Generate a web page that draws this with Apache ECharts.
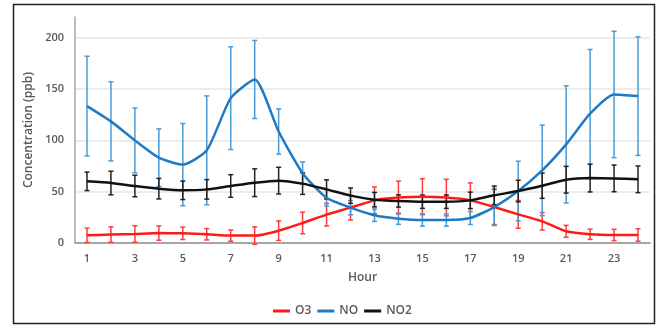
<!DOCTYPE html>
<html>
<head>
<meta charset="utf-8">
<script src="https://cdn.jsdelivr.net/npm/echarts@6/dist/echarts.min.js"></script>
<style>
  html, body { margin: 0; padding: 0; background: #fff; }
  #chart { width: 666px; height: 326px; }
</style>
</head>
<body>
<div id="chart"></div>
<script>
const hours = ["1","2","3","4","5","6","7","8","9","10","11","12","13","14","15","16","17","18","19","20","21","22","23","24"];

const o3 = [7.5, 8.2, 8.8, 9.7, 9.4, 8.5, 7.2, 7.2, 12, 19.5, 27.6, 34.4, 41.5, 44.2, 45.1, 44.2, 41.5, 35, 27.9, 21.1, 11.4, 8.5, 7.8, 7.8];
const o3Err = [7, 7.5, 8, 7, 6, 5.5, 5.5, 8.5, 9.5, 10.5, 11, 12, 13, 16, 17.5, 17.8, 17, 17, 13.5, 8.5, 5.8, 5, 5.5, 6];

const no = [133.3, 118.4, 99.9, 83.1, 76.3, 90.2, 141, 159.2, 108.5, 68, 44, 34.4, 27, 23.7, 22.4, 22.4, 24.3, 35, 50.6, 70.7, 96, 125.9, 144.6, 143];
const noErr = [48.5, 38.5, 31.5, 28, 40, 53, 50, 38, 22, 11, 8, 7, 6, 5.5, 6, 6, 6.3, 18, 29, 44, 57, 62.5, 61.5, 57.7];

const no2 = [60, 58.4, 55.5, 52.9, 51.3, 52.2, 55.5, 58.7, 60.7, 57.8, 52.2, 46.1, 42.2, 40.9, 40.2, 40.2, 41.5, 46.4, 50.6, 55.8, 61.6, 63.2, 62.9, 62];
const no2Err = [9, 11.5, 10.5, 10, 9, 9.5, 11, 13.5, 13, 10.5, 9.3, 7.5, 7, 6, 6.5, 6.5, 8, 9, 10.5, 12.3, 13, 13.5, 13, 13];

const yTicks = [0, 50, 100, 150, 200];

const textColor = "#595959";
const font = "'Open Sans', sans-serif";

function errData(vals, errs) {
  return vals.map((v, i) => [i, v - errs[i], v + errs[i]]);
}

// error bars: vertical line + two caps
function errSeries(name, vals, errs, color) {
  return {
    name: name,
    type: "custom",
    data: errData(vals, errs),
    encode: { x: 0, y: [1, 2] },
    renderItem: (params, api) => {
      const i = api.value(0);
      const top = api.coord([i, api.value(2)]);
      const bot = api.coord([i, api.value(1)]);
      const w = 2.5;
      const style = { stroke: color, lineWidth: 1.5 };
      return {
        type: "group",
        children: [
          { type: "line", shape: { x1: top[0], y1: top[1], x2: bot[0], y2: bot[1] }, style: style },
          { type: "line", shape: { x1: top[0] - w, y1: top[1], x2: top[0] + w, y2: top[1] }, style: style },
          { type: "line", shape: { x1: bot[0] - w, y1: bot[1], x2: bot[0] + w, y2: bot[1] }, style: style },
        ],
      };
    },
    z: 3,
  };
}

function lineSeries(name, vals, color) {
  return {
    name: name,
    type: "line",
    data: vals,
    smooth: 0.2,
    symbol: "none",
    lineStyle: { color: color, width: 2.5 },
    itemStyle: { color: color },
    z: 4,
  };
}

const chart = echarts.init(document.getElementById("chart"));

chart.setOption({
  animation: false,
  backgroundColor: "#fff",
  textStyle: { fontFamily: font },
  graphic: [
    {
      type: "rect",
      shape: { x: 13.5, y: 4.5, width: 641, height: 319 },
      style: { fill: "none", stroke: "#222", lineWidth: 1.5 },
      silent: true,
    },
  ],
  grid: { left: 75, right: 16, top: 17, bottom: 83 },
  legend: {
    data: ["O3", "NO", "NO2"],
    left: 268,
    top: 300,
    icon: "rect",
    itemWidth: 17,
    itemHeight: 3,
    itemGap: 6,
    textStyle: { color: textColor, fontSize: 12, fontWeight: 600, fontFamily: font },
  },
  xAxis: {
    type: "category",
    data: hours,
    boundaryGap: true,
    name: "Hour",
    nameLocation: "middle",
    nameGap: 29,
    nameTextStyle: { color: textColor, fontSize: 12, fontWeight: 600 },
    axisLine: { lineStyle: { color: "#a6a6a6", width: 2 } },
    axisTick: { show: false },
    axisLabel: { interval: 1, margin: 10, color: textColor, fontSize: 11, fontWeight: 600 },
  },
  yAxis: {
    type: "value",
    min: 0,
    max: 220,
    interval: 50,
    name: "Concentration (ppb)",
    nameLocation: "middle",
    nameGap: 38,
    nameTextStyle: { color: textColor, fontSize: 12, fontWeight: 600 },
    axisLine: { show: true, lineStyle: { color: "#a6a6a6", width: 1.5 } },
    axisTick: { show: false },
    axisLabel: {
      showMaxLabel: false,
      margin: 11,
      color: textColor,
      fontSize: 11,
      fontWeight: 600,
      formatter: (v) => (yTicks.includes(v) ? String(v) : ""),
    },
    splitLine: { showMaxLine: false, lineStyle: { color: "#e6e6e6", width: 1.5 } },
  },
  series: [
    lineSeries("O3", o3, "#ff1a1a"),
    errSeries("O3 err", o3, o3Err, "#ff3b3b"),
    lineSeries("NO", no, "#1f7ac6"),
    errSeries("NO err", no, noErr, "#4a9ad6"),
    lineSeries("NO2", no2, "#111111"),
    errSeries("NO2 err", no2, no2Err, "#222222"),
  ],
});
</script>
</body>
</html>
